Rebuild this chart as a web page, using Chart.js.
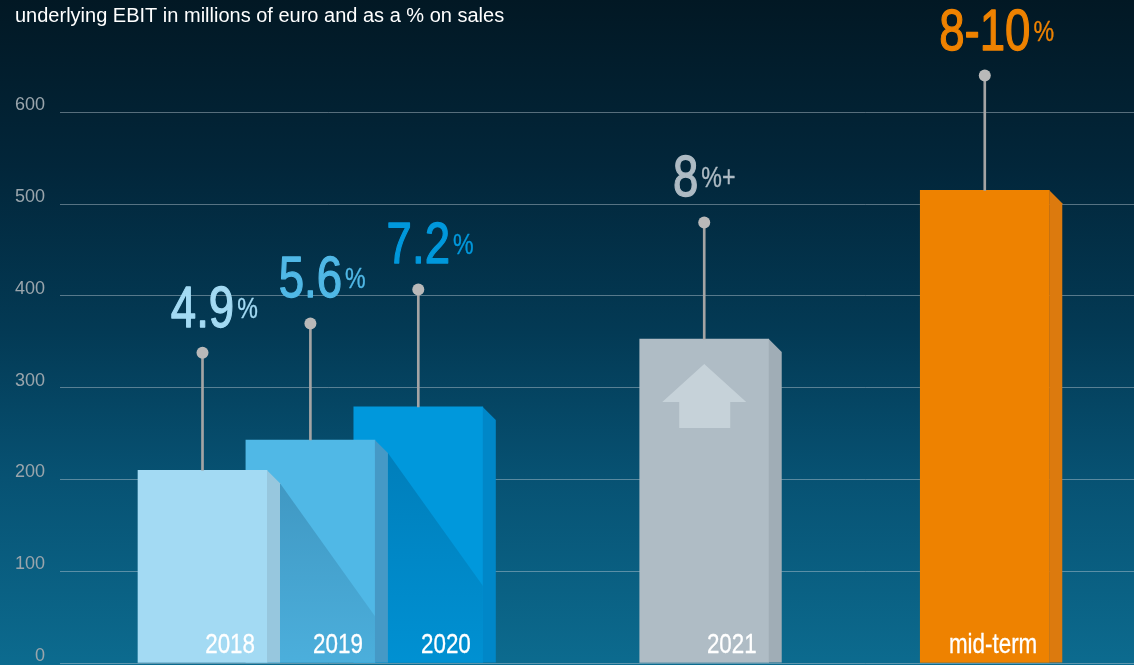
<!DOCTYPE html>
<html>
<head>
<meta charset="utf-8">
<script src="https://cdn.jsdelivr.net/npm/chart.js@4/dist/chart.umd.min.js"></script>
<style>
  html, body { margin: 0; padding: 0; }
  body {
    width: 1134px; height: 665px; overflow: hidden;
    background: linear-gradient(to bottom, #021824 0%, #02263a 25%, #033a55 50%, #075273 72%, #0c6b8f 100%);
  }
  canvas { display: block; }
</style>
</head>
<body>
<canvas id="ebitChart" width="1134" height="665"></canvas>
<script>
// data
const categories = ['2018', '2019', '2020', '2021', 'mid-term'];
const ebit = [210, 243, 279, 353, 515];          // bar height, millions of euro
const pinLevel = [338, 370, 407, 480, 640];       // where the margin pin ends
const marginText = ['4.9', '5.6', '7.2', '8', '8-10'];
const marginSuffix = ['%', '%', '%', '%+', '%'];
const slots = [0, 1, 2, 4.65, 7.25];              // spacing along the x axis
const icons = ['', '', '', 'up', ''];

// styles
const frontColors = ['#a3daf3', '#50b8e6', '#0098dc', '#afbcc5', '#ee8200'];
const sideColors = ['#97c7de', '#4599c6', '#0087c8', '#a0adb6', '#dc7a0e'];
const labelColors = ['#a3daf3', '#50b8e6', '#0098dc', '#aebbc4', '#ee8200'];
const DEPTH = 13;
const SANS = '"Liberation Sans", Arial, Helvetica, sans-serif';
const SQUEEZE = 0.8;   // fake condensed face

// draw text squeezed horizontally (with a thin outline to thicken it)
function narrowText(ctx, text, x, y, font, weight) {
  ctx.font = font;
  ctx.save();
  ctx.translate(x, y);
  ctx.scale(SQUEEZE, 1);
  if (weight) {
    ctx.strokeStyle = ctx.fillStyle;
    ctx.lineWidth = weight;
    ctx.lineJoin = 'round';
    ctx.strokeText(text, 0, 0);
  }
  ctx.fillText(text, 0, 0);
  ctx.restore();
}
function narrowWidth(ctx, text, font) {
  ctx.font = font;
  return ctx.measureText(text).width * SQUEEZE;
}

const barSets = categories.map((c, i) => ({
  type: 'bar',
  label: c,
  data: [{ x: slots[i], y: ebit[i] }],
  backgroundColor: frontColors[i],
  barThickness: 129,
  grouped: false,
  order: i + 1
}));

const stemSet = {
  type: 'bar',
  label: 'stem',
  data: categories.map((c, i) => ({ x: slots[i], y: [ebit[i], pinLevel[i]] })),
  backgroundColor: '#a4a4a4',
  barThickness: 2,
  grouped: false,
  order: -1
};

const dotSet = {
  type: 'scatter',
  label: 'pin',
  data: categories.map((c, i) => ({ x: slots[i], y: pinLevel[i] })),
  pointRadius: 6,
  pointBackgroundColor: '#b9b9b9',
  pointBorderWidth: 0,
  order: -2
};

const deco = {
  id: 'deco',
  afterDatasetsDraw(chart) {
    const ctx = chart.ctx;
    const bars = categories.map((c, i) => chart.getDatasetMeta(i).data[0]);
    const dots = chart.getDatasetMeta(categories.length + 1).data;

    // shadow thrown by a bar onto the one behind it
    bars.forEach((b, i) => {
      const n = bars[i + 1];
      if (!n) return;
      const r = b.x + b.width / 2, sr = r + DEPTH;
      const nl = n.x - n.width / 2, nr = n.x + n.width / 2;
      if (r < nl || sr > nr) return;
      const ty = b.y + DEPTH, base = b.base;
      ctx.save();
      ctx.beginPath();
      ctx.rect(nl, n.y, nr - nl, base - n.y);
      ctx.clip();
      const g = ctx.createLinearGradient(0, ty, 0, base);
      g.addColorStop(0, 'rgba(0,25,55,0.2)');
      g.addColorStop(1, 'rgba(0,25,55,0.06)');
      ctx.fillStyle = g;
      ctx.beginPath();
      ctx.moveTo(sr, ty);
      ctx.lineTo(sr + (base - ty) / 1.4, base);
      ctx.lineTo(sr, base);
      ctx.closePath();
      ctx.fill();
      ctx.restore();
    });

    // right-hand faces
    bars.forEach((b, i) => {
      const r = b.x + b.width / 2;
      ctx.fillStyle = sideColors[i];
      ctx.beginPath();
      ctx.moveTo(r, b.y);
      ctx.lineTo(r + DEPTH, b.y + DEPTH);
      ctx.lineTo(r + DEPTH, b.base);
      ctx.lineTo(r, b.base);
      ctx.closePath();
      ctx.fill();
    });

    // arrow icon
    bars.forEach((b, i) => {
      if (icons[i] !== 'up') return;
      const cx = b.x, t = b.y;
      ctx.fillStyle = '#c6d2d9';
      ctx.beginPath();
      ctx.moveTo(cx, t + 25);
      ctx.lineTo(cx + 42, t + 63);
      ctx.lineTo(cx + 26, t + 63);
      ctx.lineTo(cx + 26, t + 89);
      ctx.lineTo(cx - 25, t + 89);
      ctx.lineTo(cx - 25, t + 63);
      ctx.lineTo(cx - 42, t + 63);
      ctx.closePath();
      ctx.fill();
    });

    ctx.save();
    ctx.textBaseline = 'alphabetic';
    ctx.textAlign = 'left';

    // category names inside the bars
    ctx.fillStyle = '#ffffff';
    const catFont = '28px ' + SANS;
    bars.forEach((b, i) => {
      const w = narrowWidth(ctx, categories[i], catFont);
      narrowText(ctx, categories[i], b.x + b.width / 2 - 12 - w, b.base - 10, catFont, 0.3);
    });

    // margin labels over the pins
    const big = '57px ' + SANS, small = '29px ' + SANS;
    dots.forEach((p, i) => {
      const wn = narrowWidth(ctx, marginText[i], big);
      const ws = narrowWidth(ctx, marginSuffix[i], small);
      const gap = 3;
      const x0 = marginSuffix[i].length > 1 ? p.x - (wn + gap + ws) / 2 : p.x - wn / 2;
      const yb = p.y - 26;
      ctx.fillStyle = labelColors[i];
      narrowText(ctx, marginText[i], x0, yb, big, 1.3);
      narrowText(ctx, marginSuffix[i], x0 + wn + gap, yb - 9, small, 0.4);
    });
    ctx.restore();
  }
};

new Chart(document.getElementById('ebitChart'), {
  data: { datasets: [...barSets, stemSet, dotSet] },
  options: {
    responsive: false,
    animation: false,
    layout: { autoPadding: false, padding: { left: 15, right: 0, top: 0, bottom: 2 } },
    plugins: {
      legend: { display: false },
      tooltip: { enabled: false },
      title: {
        display: true,
        text: 'underlying EBIT in millions of euro and as a % on sales',
        align: 'start',
        color: '#ffffff',
        font: { family: SANS, size: 20, weight: 'normal', lineHeight: 1.2 },
        padding: { top: 4, bottom: 38.4 }
      }
    },
    scales: {
      x: { type: 'linear', display: false, offset: false, min: -1.3207, max: 8.633 },
      y: {
        min: 0,
        max: 650,
        afterFit: s => { s.width = 45; s.paddingTop = 0; s.paddingBottom = 0; },
        afterBuildTicks: s => { s.ticks = s.ticks.filter(t => t.value % 100 === 0); },
        ticks: {
          stepSize: 100,
          padding: 15,
          labelOffset: -7,
          color: '#9aa5ac',
          font: { family: SANS, size: 18 }
        },
        grid: { color: 'rgba(190,205,212,0.45)', lineWidth: 1, drawTicks: false },
        border: { display: false }
      }
    }
  },
  plugins: [deco]
});
</script>
</body>
</html>
